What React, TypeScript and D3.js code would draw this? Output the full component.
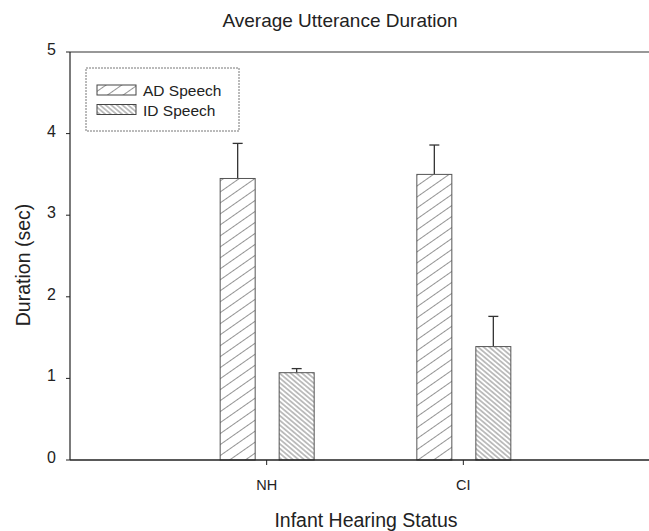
import React, { useEffect, useRef } from 'react';
import * as d3 from 'd3';

const categories = ['NH', 'CI'];
const adMeans = [3.45, 3.5];
const adErrs = [0.43, 0.36];
const idMeans = [1.07, 1.39];
const idErrs = [0.05, 0.37];
const yTicks = [0, 1, 2, 3, 4, 5];

const W = 649;
const H = 531;

export default function App() {
  const ref = useRef<SVGSVGElement>(null);

  useEffect(() => {
    const svg = d3.select(ref.current);
    svg.selectAll('*').remove();
    const font = 'Liberation Sans, Arial, sans-serif';

    const left = 70;
    const right = 649;
    const top = 52;
    const bottom = 460;

    const x = d3.scalePoint().domain(categories).range([left, 660]).padding(1);
    const y = d3.scaleLinear().domain([0, 5]).range([bottom, top]);

    const defs = svg.append('defs');
    // AD: sparse forward slashes
    const pAD = defs
      .append('pattern')
      .attr('id', 'hatchAD')
      .attr('patternUnits', 'userSpaceOnUse')
      .attr('width', 9)
      .attr('height', 9)
      .attr('patternTransform', 'rotate(-35)');
    pAD.append('rect').attr('width', 9).attr('height', 9).attr('fill', '#fff');
    pAD.append('line').attr('x1', 0).attr('x2', 9).attr('y1', 4.5).attr('y2', 4.5)
      .attr('stroke', '#888').attr('stroke-width', 0.9);
    // ID: dense back slashes
    const pID = defs
      .append('pattern')
      .attr('id', 'hatchID')
      .attr('patternUnits', 'userSpaceOnUse')
      .attr('width', 3.6)
      .attr('height', 3.6)
      .attr('patternTransform', 'rotate(40)');
    pID.append('rect').attr('width', 3.6).attr('height', 3.6).attr('fill', '#fff');
    pID.append('line').attr('x1', 0).attr('x2', 3.6).attr('y1', 1.8).attr('y2', 1.8)
      .attr('stroke', '#777').attr('stroke-width', 0.9);

    // title
    svg.append('text')
      .attr('x', 340).attr('y', 27)
      .attr('text-anchor', 'middle')
      .attr('font-family', font).attr('font-size', 19)
      .attr('fill', '#222')
      .text('Average Utterance Duration');

    // top frame line
    svg.append('line').attr('x1', left).attr('x2', right).attr('y1', top).attr('y2', top)
      .attr('stroke', '#333').attr('stroke-width', 1.2);

    const barW = 35;
    const offAD = -29;
    const offID = 30;

    const bars = svg.append('g');
    categories.forEach((c, i) => {
      const cx = x(c)!;
      const groups = [
        { m: adMeans[i], e: adErrs[i], off: offAD, fill: 'url(#hatchAD)' },
        { m: idMeans[i], e: idErrs[i], off: offID, fill: 'url(#hatchID)' },
      ];
      groups.forEach((g) => {
        const bx = cx + g.off - barW / 2;
        const ex = cx + g.off;
        bars.append('line')
          .attr('x1', ex).attr('x2', ex)
          .attr('y1', y(g.m)).attr('y2', y(g.m + g.e))
          .attr('stroke', '#333').attr('stroke-width', 1.3);
        bars.append('line')
          .attr('x1', ex - 5).attr('x2', ex + 5)
          .attr('y1', y(g.m + g.e)).attr('y2', y(g.m + g.e))
          .attr('stroke', '#333').attr('stroke-width', 1.3);
        bars.append('rect')
          .attr('x', bx).attr('y', y(g.m))
          .attr('width', barW).attr('height', y(0) - y(g.m))
          .attr('fill', g.fill)
          .attr('stroke', '#555').attr('stroke-width', 1);
      });
    });

    // y axis
    const yAxis = svg.append('g');
    yAxis.append('line').attr('x1', left).attr('x2', left).attr('y1', top).attr('y2', bottom)
      .attr('stroke', '#222').attr('stroke-width', 1.2);
    yTicks.forEach((t) => {
      yAxis.append('line').attr('x1', left - 4).attr('x2', left).attr('y1', y(t)).attr('y2', y(t))
        .attr('stroke', '#222');
      yAxis.append('text')
        .attr('x', left - 14).attr('y', y(t) + 3)
        .attr('text-anchor', 'end')
        .attr('font-family', font).attr('font-size', 16).attr('fill', '#222')
        .text(t);
    });

    // x axis
    const xAxis = svg.append('g');
    xAxis.append('line').attr('x1', left).attr('x2', right).attr('y1', bottom).attr('y2', bottom)
      .attr('stroke', '#222').attr('stroke-width', 1.3);
    categories.forEach((c) => {
      xAxis.append('line').attr('x1', x(c)!).attr('x2', x(c)!).attr('y1', bottom).attr('y2', bottom + 5)
        .attr('stroke', '#222');
      xAxis.append('text')
        .attr('x', x(c)!).attr('y', 490)
        .attr('text-anchor', 'middle')
        .attr('font-family', font).attr('font-size', 14.5).attr('fill', '#222')
        .text(c);
    });

    svg.append('text')
      .attr('x', 366).attr('y', 527)
      .attr('text-anchor', 'middle')
      .attr('font-family', font).attr('font-size', 19.5).attr('fill', '#222')
      .text('Infant Hearing Status');

    svg.append('text')
      .attr('transform', `translate(30,265) rotate(-90)`)
      .attr('text-anchor', 'middle')
      .attr('font-family', font).attr('font-size', 19.5).attr('fill', '#222')
      .text('Duration (sec)');

    // legend
    const lg = svg.append('g');
    lg.append('rect').attr('x', 86).attr('y', 68).attr('width', 153).attr('height', 63)
      .attr('fill', '#fff').attr('stroke', '#777').attr('stroke-width', 1)
      .attr('stroke-dasharray', '2,1');
    const items = [
      { label: 'AD Speech', fill: 'url(#hatchAD)' },
      { label: 'ID Speech', fill: 'url(#hatchID)' },
    ];
    items.forEach((it, i) => {
      const yy = 85 + i * 19.5;
      lg.append('rect').attr('x', 97).attr('y', yy).attr('width', 39).attr('height', 10)
        .attr('fill', it.fill).attr('stroke', '#444').attr('stroke-width', 1);
      lg.append('text').attr('x', 143).attr('y', yy + 11)
        .attr('font-family', font).attr('font-size', 15.5).attr('fill', '#222')
        .text(it.label);
    });
  }, []);

  return (
    <svg
      ref={ref}
      width={W}
      height={H}
      style={{ position: 'absolute', left: 0, top: 0, background: '#fff' }}
    />
  );
}
